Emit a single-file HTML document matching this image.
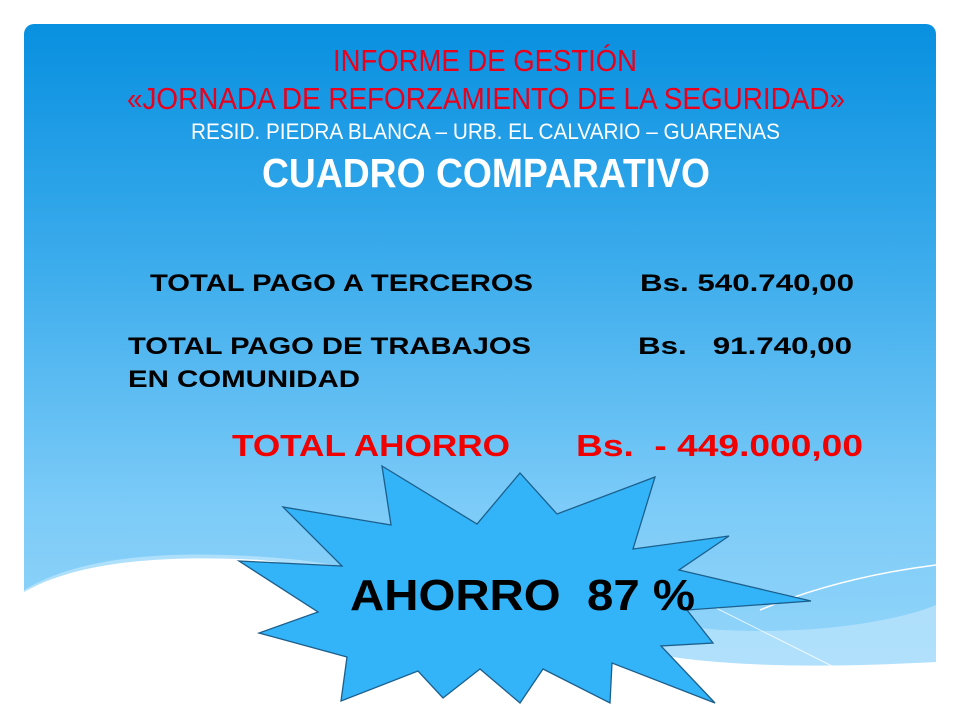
<!DOCTYPE html>
<html><head><meta charset="utf-8"><style>html,body{margin:0;padding:0;background:#fff}svg{display:block}</style></head>
<body>
<svg width="960" height="720" viewBox="0 0 960 720" font-family="'Liberation Sans', sans-serif">
<defs>
<linearGradient id="bg" x1="0" y1="0" x2="0" y2="1">
<stop offset="0" stop-color="#0890e0"/><stop offset="0.35" stop-color="#3cacec"/><stop offset="0.7" stop-color="#7ccbf8"/><stop offset="1" stop-color="#9ad8fa"/>
</linearGradient>
</defs>
<rect x="24" y="24" width="912" height="690" rx="10" fill="url(#bg)"/>
<path d="M24 590 C90 550 200 550 300 560 C450 580 600 620 720 630 C820 635 900 620 936 605 L936 720 L24 720 Z" fill="#b5e2fb" opacity="0.85"/>
<path d="M24 592 C80 560 170 555 260 560 C400 575 520 625 630 650 C720 668 820 668 936 662 L936 720 L24 720 Z" fill="#fff"/>
<path d="M760 610 C820 585 880 572 936 565" stroke="#fff" stroke-width="1.5" fill="none"/>
<path d="M700 600 L860 680" stroke="#fff" stroke-width="1" fill="none" opacity="0.8"/>
<g text-anchor="start">
<text x="333" y="71" font-size="31" fill="#e8001c" textLength="304" lengthAdjust="spacingAndGlyphs">INFORME DE GESTIÓN</text>
<text x="127" y="109" font-size="31" fill="#e8001c" textLength="718" lengthAdjust="spacingAndGlyphs">«JORNADA DE REFORZAMIENTO DE LA SEGURIDAD»</text>
<text x="191" y="139" font-size="22" fill="#fff" textLength="589" lengthAdjust="spacingAndGlyphs">RESID. PIEDRA BLANCA – URB. EL CALVARIO – GUARENAS</text>
<text x="262" y="187" font-size="41" font-weight="bold" fill="#fff" textLength="448" lengthAdjust="spacingAndGlyphs">CUADRO COMPARATIVO</text>
<g font-weight="bold" font-size="24" fill="#000">
<text x="150" y="291" textLength="383" lengthAdjust="spacingAndGlyphs">TOTAL PAGO A TERCEROS</text>
<text x="640" y="291" textLength="214" lengthAdjust="spacingAndGlyphs">Bs. 540.740,00</text>
<text x="128" y="354" textLength="403" lengthAdjust="spacingAndGlyphs">TOTAL PAGO DE TRABAJOS</text>
<text x="638" y="354" textLength="214" lengthAdjust="spacingAndGlyphs" xml:space="preserve">Bs.   91.740,00</text>
<text x="128" y="387" textLength="232" lengthAdjust="spacingAndGlyphs">EN COMUNIDAD</text>
</g>
<g font-weight="bold" font-size="31" fill="#f00000">
<text x="232" y="456" textLength="278" lengthAdjust="spacingAndGlyphs">TOTAL AHORRO</text>
<text x="576" y="456" textLength="287" lengthAdjust="spacingAndGlyphs" xml:space="preserve">Bs.  - 449.000,00</text>
</g>
</g>
<polygon fill="#33b4f8" stroke="#1c5f8c" stroke-width="1.3" points="382,466 477,524 520,473 557,514 655,477 633,549 729,536 679,570 811,601 687,610 713,643 661,646 715,703 612,663 610,703 543,669 520,703 480,669 443,698 418,671 341,701 347,657 259,633 318,612 239,561 342,566 283,507 391,525"/>
<text x="350" y="610" font-size="44" font-weight="bold" fill="#000" textLength="345" lengthAdjust="spacingAndGlyphs" xml:space="preserve">AHORRO  87 %</text>
</svg>
</body></html>
